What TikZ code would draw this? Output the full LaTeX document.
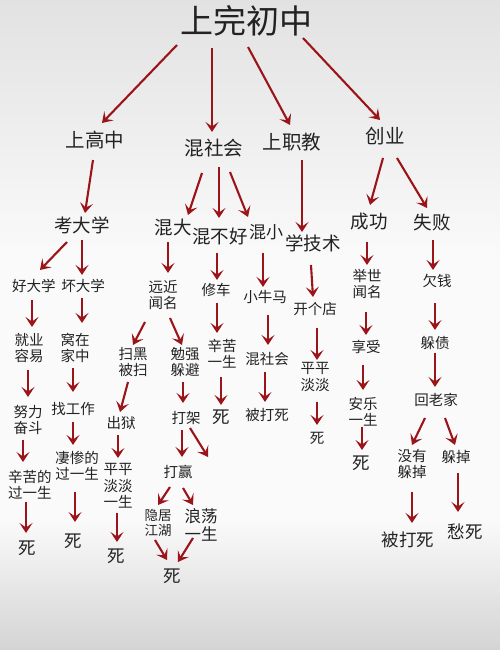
\documentclass[tikz,border=0pt]{standalone}
\usepackage{fontspec}
\newfontfamily\cjk{Noto Sans CJK SC}
\usetikzlibrary{arrows.meta,calc}
\definecolor{arrc}{RGB}{155,20,26}
\definecolor{txtc}{RGB}{34,34,34}
\definecolor{bgtop}{RGB}{226,226,226}
\definecolor{bgmid}{RGB}{250,250,250}
\definecolor{bgbot}{RGB}{212,212,212}
\tikzset{
  lbl/.style={text=txtc, inner sep=0pt, align=center, font=\cjk\fontsize{14.5}{16.3}\selectfont},
  big/.style={lbl, font=\cjk\fontsize{18.5}{21}\selectfont},
  top/.style={lbl, font=\cjk\fontsize{19.5}{21}\selectfont},
  title/.style={lbl, font=\cjk\fontsize{33}{36}\selectfont},
  death/.style={lbl, font=\cjk\fontsize{17.5}{20}\selectfont},
  arr/.style={draw=arrc, line width=2.1pt, -{Stealth[length=10pt,width=13pt,inset=4.5pt]}},
}
\newcommand{\myarr}[4]{\draw[arr] ($(#1)+(#2)$) -- ($(#3)+(#4)$);}
\begin{document}
\begin{tikzpicture}[x=1pt,y=-1pt]
\useasboundingbox (0,0) rectangle (500,650);
\shade[top color=bgtop, bottom color=bgmid] (0,0) rectangle (500,260);
\fill[bgmid] (0,259.5) rectangle (500,520.5);
\shade[top color=bgmid, bottom color=bgbot] (0,520) rectangle (500,650);
% nodes
\node[title] (T) at (246,21) {上完初中};
\node[top] (A1) at (95,140) {上高中};
\node[top] (A2) at (214,148) {混社会};
\node[top] (A3) at (292,142) {上职教};
\node[top] (A4) at (385,136) {创业};
\node[big] (B1) at (82,225) {考大学};
\node[lbl] (C1) at (34,286) {好大学};
\node[lbl] (C2) at (83,286) {坏大学};
\node[lbl] (D1) at (29,348) {就业\\容易};
\node[lbl] (D2) at (75,348) {窝在\\家中};
\node[lbl] (E1) at (28,420) {努力\\奋斗};
\node[lbl] (E2) at (73,409) {找工作};
\node[lbl] (F1) at (30,485) {辛苦的\\过一生};
\node[lbl] (F2) at (77,466) {凄惨的\\过一生};
\node[death] (G1) at (27,548) {死};
\node[death] (G2) at (73,541) {死};
\node[big] (B2) at (173,228) {混大};
\node[big] (B3) at (220,236) {混不好};
\node[lbl, font=\cjk\fontsize{17}{19}\selectfont] (B4) at (266,232) {混小};
\node[big] (B5) at (313,243) {学技术};
\node[big] (B6) at (369,222) {成功};
\node[big] (B7) at (432,222) {失败};
\node[lbl] (C3) at (163,295) {远近\\闻名};
\node[lbl] (C4) at (216,290) {修车};
\node[lbl] (C5) at (265,297) {小牛马};
\node[lbl] (C6) at (315,309) {开个店};
\node[lbl] (C7) at (367,284) {举世\\闻名};
\node[lbl] (C8) at (437,281) {欠钱};
\node[lbl] (D3) at (133,362) {扫黑\\被扫};
\node[lbl] (D4) at (185,362) {勉强\\躲避};
\node[lbl] (D5) at (222,354) {辛苦\\一生};
\node[lbl] (D6) at (267,359) {混社会};
\node[lbl] (D7) at (315,377) {平平\\淡淡};
\node[lbl] (D8) at (366,347) {享受};
\node[lbl] (D9) at (435,343) {躲债};
\node[lbl] (E3) at (121,423) {出狱};
\node[lbl] (E4) at (186,418) {打架};
\node[death] (E5) at (221,417) {死};
\node[lbl] (E6) at (267,415) {被打死};
\node[lbl] (E7) at (317,438) {死};
\node[lbl] (E8) at (363,412) {安乐\\一生};
\node[lbl] (E9) at (436,400) {回老家};
\node[lbl] (F3) at (118,486) {平平\\淡淡\\一生};
\node[lbl] (F4) at (178,472) {打赢};
\coordinate (X) at (208,457);
\node[death] (F8) at (361,463) {死};
\node[lbl] (F9a) at (412,464) {没有\\躲掉};
\node[lbl] (F9b) at (456,457) {躲掉};
\node[death] (G3) at (116,556) {死};
\node[lbl, font=\cjk\fontsize{13.5}{15.5}\selectfont] (G4a) at (158,523) {隐居\\江湖};
\node[lbl, font=\cjk\fontsize{16.5}{18}\selectfont] (G4b) at (201,525) {浪荡\\一生};
\node[death] (G9a) at (408,540) {被打死};
\node[death] (G9b) at (465,532) {愁死};
\node[death] (H) at (172,576) {死};
% arrows
\myarr{T}{-69,24}{A1}{7,-17}
\myarr{T}{-34,27}{A2}{-2,-16}
\myarr{T}{2,26}{A3}{-2,-17}
\myarr{T}{57,17}{A4}{-5,-16}
\myarr{A1}{-2,20}{B1}{3,-12}
\myarr{B1}{-15,17}{C1}{6,-16}
\myarr{B1}{0,15}{C2}{-1,-11}
\myarr{C1}{-2,14}{D1}{3,-21}
\myarr{C2}{-1,12}{D2}{7,-25}
\myarr{D1}{-1,22}{E1}{0,-23}
\myarr{D2}{-2,20}{E2}{0,-17}
\myarr{E1}{-5,20}{F1}{-7,-23}
\myarr{E2}{0,13}{F2}{-4,-21}
\myarr{F1}{-4,17}{G1}{-1,-15}
\myarr{F2}{-2,26}{G2}{2,-19}
\myarr{A2}{-12,25}{B2}{15,-13}
\myarr{A2}{5,19}{B3}{-1,-18}
\myarr{A2}{16,24}{B4}{-18,-15}
\myarr{A3}{10,18}{B5}{-11,-11}
\myarr{A4}{-2,22}{B6}{1,-17}
\myarr{A4}{12,22}{B7}{-5,-14}
\myarr{B2}{-5,14}{C3}{5,-22}
\myarr{B3}{-3,17}{C4}{1,-10}
\myarr{B4}{-3,21}{C5}{-2,-10}
\myarr{B5}{-2,22}{C6}{-2,-12}
\myarr{B6}{-2,20}{C7}{0,-19}
\myarr{B7}{1,18}{C8}{-4,-11}
\myarr{C3}{-18,27}{D3}{0,-17}
\myarr{C3}{7,23}{D4}{-3,-17}
\myarr{C4}{1,13}{D5}{-5,-21}
\myarr{C5}{3,18}{D6}{1,-14}
\myarr{C6}{2,19}{D7}{2,-17}
\myarr{C7}{-1,28}{D8}{0,-12}
\myarr{C8}{-2,22}{D9}{0,-13}
\myarr{D3}{-5,20}{E3}{-1,-11}
\myarr{D4}{-2,20}{E4}{-3,-15}
\myarr{D5}{-1,23}{E5}{0,-12}
\myarr{D6}{-2,13}{E6}{-2,-13}
\myarr{D7}{2,25}{E7}{0,-13}
\myarr{D8}{-3,18}{E8}{0,-22}
\myarr{D9}{0,10}{E9}{-1,-13}
\myarr{E3}{-3,12}{F3}{0,-28}
\myarr{E4}{-4,12}{F4}{4,-15}
\myarr{E4}{4,10}{X}{0,0}
\myarr{E8}{-1,15}{F8}{1,-13}
\myarr{E9}{-11,18}{F9a}{0,-19}
\myarr{E9}{9,18}{F9b}{-1,-12}
\myarr{F3}{-1,27}{G3}{1,-14}
\myarr{F4}{-8,15}{G4a}{0,-18}
\myarr{F4}{5,16}{G4b}{-8,-20}
\myarr{F9a}{0,28}{G9a}{4,-17}
\myarr{F9b}{2,16}{G9b}{-7,-20}
\myarr{G4a}{-3,17}{H}{-5,-16}
\myarr{G4b}{-8,13}{H}{6,-14}
\end{tikzpicture}
\end{document}
